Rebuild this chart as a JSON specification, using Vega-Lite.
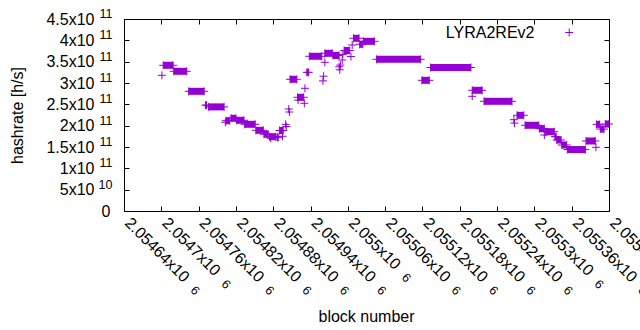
{
  "$schema": "https://vega.github.io/schema/vega-lite/v6.json",
  "width": 485,
  "height": 192,
  "autosize": {"type": "none"},
  "padding": {"left": 124, "top": 19, "right": 31, "bottom": 119},
  "background": "white",
  "config": {
    "view": {"stroke": "black", "strokeWidth": 1},
    "font": "Liberation Sans",
    "axis": {
      "labelFont": "Liberation Sans", "titleFont": "Liberation Sans",
      "labelColor": "black", "titleColor": "black", "tickColor": "black",
      "grid": false, "domain": false, "labelFontSize": 16, "titleFontSize": 16,
      "titleFontWeight": "normal", "labelOverlap": false, "labelBound": false,
      "labelFlush": false, "tickSize": -5, "tickWidth": 1
    }
  },
  "datasets": {
    "runs": [
      {"s": 2054703, "e": 2054719, "h": 3.415e11},
      {"s": 2054720, "e": 2054741, "h": 3.274e11},
      {"s": 2054744, "e": 2054769, "h": 2.805e11},
      {"s": 2054771, "e": 2054773, "h": 2.48e11},
      {"s": 2054776, "e": 2054801, "h": 2.44e11},
      {"s": 2054804, "e": 2054810, "h": 2.116e11},
      {"s": 2054812, "e": 2054820, "h": 2.173e11},
      {"s": 2054821, "e": 2054833, "h": 2.126e11},
      {"s": 2054834, "e": 2054851, "h": 2.032e11},
      {"s": 2054852, "e": 2054864, "h": 1.891e11},
      {"s": 2054865, "e": 2054872, "h": 1.798e11},
      {"s": 2054874, "e": 2054884, "h": 1.741e11},
      {"s": 2054886, "e": 2054888, "h": 1.727e11},
      {"s": 2054890, "e": 2054896, "h": 1.887e11},
      {"s": 2054907, "e": 2054918, "h": 3.087e11},
      {"s": 2054919, "e": 2054929, "h": 2.665e11},
      {"s": 2054934, "e": 2054937, "h": 3.25e11},
      {"s": 2054938, "e": 2054958, "h": 3.626e11},
      {"s": 2054963, "e": 2054975, "h": 3.696e11},
      {"s": 2054976, "e": 2054986, "h": 3.645e11},
      {"s": 2054994, "e": 2055003, "h": 3.762e11},
      {"s": 2055009, "e": 2055018, "h": 4.048e11},
      {"s": 2055019, "e": 2055024, "h": 3.907e11},
      {"s": 2055025, "e": 2055043, "h": 3.977e11},
      {"s": 2055046, "e": 2055117, "h": 3.555e11},
      {"s": 2055119, "e": 2055131, "h": 3.063e11},
      {"s": 2055133, "e": 2055198, "h": 3.363e11},
      {"s": 2055200, "e": 2055216, "h": 2.829e11},
      {"s": 2055219, "e": 2055264, "h": 2.571e11},
      {"s": 2055272, "e": 2055283, "h": 2.243e11},
      {"s": 2055285, "e": 2055307, "h": 2.009e11},
      {"s": 2055308, "e": 2055316, "h": 1.929e11},
      {"s": 2055318, "e": 2055332, "h": 1.859e11},
      {"s": 2055333, "e": 2055335, "h": 1.742e11},
      {"s": 2055336, "e": 2055343, "h": 1.664e11},
      {"s": 2055344, "e": 2055352, "h": 1.547e11},
      {"s": 2055353, "e": 2055382, "h": 1.44e11},
      {"s": 2055383, "e": 2055398, "h": 1.641e11},
      {"s": 2055400, "e": 2055405, "h": 2.03e11},
      {"s": 2055406, "e": 2055412, "h": 1.92e11},
      {"s": 2055414, "e": 2055420, "h": 2.039e11}
    ],
    "pts": [
      {"b": 2054701, "h": 3.18e11},
      {"b": 2054803, "h": 2.079e11},
      {"b": 2054876, "h": 1.704e11},
      {"b": 2054895, "h": 1.751e11},
      {"b": 2054900, "h": 2.03e11},
      {"b": 2054901, "h": 1.98e11},
      {"b": 2054905, "h": 2.39e11},
      {"b": 2054906, "h": 2.32e11},
      {"b": 2054920, "h": 2.6e11},
      {"b": 2054930, "h": 2.524e11},
      {"b": 2054931, "h": 2.876e11},
      {"b": 2054960, "h": 3.05e11},
      {"b": 2054961, "h": 3.16e11},
      {"b": 2054963, "h": 3.485e11},
      {"b": 2054986, "h": 3.38e11},
      {"b": 2054987, "h": 3.31e11},
      {"b": 2054988, "h": 3.42e11},
      {"b": 2054991, "h": 3.54e11},
      {"b": 2054992, "h": 3.67e11},
      {"b": 2055005, "h": 3.62e11},
      {"b": 2055007, "h": 3.89e11},
      {"b": 2055200, "h": 2.688e11},
      {"b": 2055267, "h": 2.14e11},
      {"b": 2055268, "h": 2.06e11},
      {"b": 2055316, "h": 1.781e11},
      {"b": 2055399, "h": 1.493e11}
    ]
  },
  "resolve": {"axis": {"x": "independent", "y": "independent"}},
  "layer": [
    {
      "data": {"name": "runs"},
      "mark": {"type": "rule", "strokeWidth": 7, "strokeCap": "butt", "color": "#9400d3"},
      "encoding": {
        "x": {
          "field": "s", "type": "quantitative",
          "scale": {"domain": [2054640, 2055420], "nice": false, "zero": false},
          "axis": {
            "orient": "bottom",
            "values": [2054640, 2054700, 2054760, 2054820, 2054880, 2054940, 2055000, 2055060, 2055120, 2055180, 2055240, 2055300, 2055360, 2055420],
            "labelExpr": "format(datum.value/1e6,'~g')+'x10'",
            "labelAngle": 45, "labelAlign": "left", "labelBaseline": "middle",
            "labelPadding": 14, "labelOffset": 3,
            "title": "block number", "titleX": 242, "titleY": 105, "titleBaseline": "middle", "titleAlign": "center"
          }
        },
        "x2": {"field": "e"},
        "y": {
          "field": "h", "type": "quantitative",
          "scale": {"domain": [0, 450000000000], "nice": false, "zero": true},
          "axis": {
            "orient": "left",
            "values": [0, 50000000000, 100000000000, 150000000000, 200000000000, 250000000000, 300000000000, 350000000000, 400000000000, 450000000000],
            "labelExpr": "datum.value==0?'':format(datum.value/(datum.value>=1e11?1e11:1e10),'~g')+'x10'",
            "labelAlign": "right", "labelBaseline": "middle", "labelPadding": 35,
            "title": "hashrate [h/s]", "titleX": -106.5, "titleY": 96, "titleAngle": -90,
            "titleBaseline": "middle", "titleAlign": "center"
          }
        }
      }
    },
    {
      "data": {"name": "runs"},
      "transform": [{"fold": ["s", "e"], "as": ["end", "b"]}],
      "mark": {"type": "point", "shape": "M-1,0L1,0M0,-1L0,1", "filled": false, "strokeWidth": 1, "size": 64, "opacity": 1},
      "encoding": {
        "x": {
          "field": "b", "type": "quantitative",
          "axis": {
            "orient": "bottom", "ticks": false,
            "values": [2054640, 2054700, 2054760, 2054820, 2054880, 2054940, 2055000, 2055060, 2055120, 2055180, 2055240, 2055300, 2055360, 2055420],
            "labelExpr": "'6'", "labelAngle": 45, "labelAlign": "left", "labelBaseline": "middle", "labelFontSize": 12.5,
            "labelOffset": {"condition": [{"test": "datum.value==2055000", "value": 55.4}, {"test": "datum.value==2054700||datum.value==2055300", "value": 61.7}], "value": 68},
            "labelPadding": {"condition": [{"test": "datum.value==2055000", "value": 64}, {"test": "datum.value==2054700||datum.value==2055300", "value": 70.3}], "value": 76.6},
            "title": null
          }
        },
        "y": {
          "field": "h", "type": "quantitative",
          "axis": {
            "orient": "left", "ticks": false,
            "values": [0, 50000000000, 100000000000, 150000000000, 200000000000, 250000000000, 300000000000, 350000000000, 400000000000, 450000000000],
            "labelExpr": "datum.value==0?'0':(datum.value>=1e11?'11':'10')",
            "labelAlign": "right", "labelBaseline": "middle",
            "labelPadding": {"condition": {"test": "datum.value==0", "value": 14}, "value": 12},
            "labelFontSize": {"condition": {"test": "datum.value==0", "value": 16}, "value": 12.5},
            "labelOffset": {"condition": {"test": "datum.value==0", "value": 0}, "value": -5.5},
            "title": null
          }
        },
        "color": {
          "datum": "LYRA2REv2", "type": "nominal",
          "scale": {"range": ["#9400d3"]},
          "legend": {
            "orient": "none", "legendX": 437.2, "legendY": 5.5, "title": null, "padding": 0,
            "symbolType": "M-1,0L1,0M0,-1L0,1", "symbolSize": 64, "symbolStrokeWidth": 1,
            "labelFontSize": 16, "labelFont": "Liberation Sans", "labelColor": "black",
            "labelAlign": "right", "labelOffset": -42.7
          }
        }
      }
    },
    {
      "data": {"name": "pts"},
      "mark": {"type": "point", "shape": "M-1,0L1,0M0,-1L0,1", "filled": false, "strokeWidth": 1, "size": 64, "opacity": 1},
      "encoding": {
        "x": {
          "field": "b", "type": "quantitative",
          "axis": {
            "orient": "top", "labels": false, "title": null,
            "values": [2054640, 2054700, 2054760, 2054820, 2054880, 2054940, 2055000, 2055060, 2055120, 2055180, 2055240, 2055300, 2055360, 2055420]
          }
        },
        "y": {
          "field": "h", "type": "quantitative",
          "axis": {
            "orient": "right", "labels": false, "title": null,
            "values": [0, 50000000000, 100000000000, 150000000000, 200000000000, 250000000000, 300000000000, 350000000000, 400000000000, 450000000000]
          }
        },
        "color": {
          "datum": "LYRA2REv2", "type": "nominal",
          "scale": {"range": ["#9400d3"]},
          "legend": {
            "orient": "none", "legendX": 437.2, "legendY": 5.5, "title": null, "padding": 0,
            "symbolType": "M-1,0L1,0M0,-1L0,1", "symbolSize": 64, "symbolStrokeWidth": 1,
            "labelFontSize": 16, "labelFont": "Liberation Sans", "labelColor": "black",
            "labelAlign": "right", "labelOffset": -42.7
          }
        }
      }
    }
  ]
}
